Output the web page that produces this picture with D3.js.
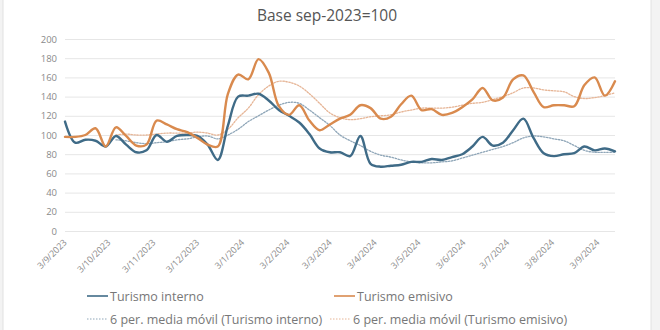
<!DOCTYPE html>
<html>
<head>
<meta charset="utf-8">
<script src="https://cdn.jsdelivr.net/npm/d3@7"></script>
<style>
  html, body { margin: 0; padding: 0; background: #f3f3f3; }
  svg { display: block; }
</style>
</head>
<body>
<svg id="chart" width="660" height="330"></svg>
<script>
// Weekly index values, base sep-2023 = 100
const startDate = new Date(2023, 8, 3);
const turismoInterno = [114, 92, 95, 94, 88, 99, 90, 82, 84, 100, 93, 99, 100, 99, 90, 74, 110, 140, 141, 143,
  136, 126, 120, 113, 101, 86, 82, 82, 78, 99, 70, 67, 68, 69, 72, 72, 75, 74, 77, 80,
  88, 98, 89, 92, 105, 117, 97, 81, 78, 80, 81, 88, 84, 86, 83];
const turismoEmisivo = [98, 98, 100, 107, 88, 108, 99, 89, 90, 115, 111, 106, 103, 97, 90, 88, 143, 163, 158, 179,
  165, 130, 121, 131, 115, 105, 111, 117, 121, 131, 128, 117, 119, 132, 141, 126, 127, 121, 123, 129,
  137, 149, 136, 139, 158, 162, 145, 129, 131, 131, 130, 152, 160, 141, 156];
// 6-period moving averages (first five weeks have no value)
const mediaInterno = [null, null, null, null, null, 95, 94, 92, 91, 92, 93, 95, 96, 98, 99, 96, 100, 106, 114, 120,
  126, 131, 134, 133, 126, 118, 110, 100, 94, 89, 83, 79, 77, 74, 72, 71, 71, 72, 73, 76,
  79, 82, 85, 88, 92, 97, 99, 98, 96, 94, 89, 84, 82, 82, 82];
const mediaEmisivo = [null, null, null, null, null, 100, 101, 100, 100, 101, 102, 102, 102, 103, 102, 100, 106, 118, 128, 142,
  151, 156, 155, 151, 143, 133, 123, 118, 116, 117, 119, 120, 121, 124, 126, 128, 128, 128, 129, 131,
  133, 134, 137, 140, 144, 149, 149, 147, 146, 145, 140, 138, 139, 141, 144];
const yTicks = [0, 20, 40, 60, 80, 100, 120, 140, 160, 180, 200];
const xTickDates = ["2023-09-03", "2023-10-03", "2023-11-03", "2023-12-03", "2024-01-03", "2024-02-03",
  "2024-03-03", "2024-04-03", "2024-05-03", "2024-06-03", "2024-07-03", "2024-08-03", "2024-09-03"];
const title = "Base sep-2023=100";
const legendLabels = ["Turismo interno", "Turismo emisivo",
  "6 per. media móvil (Turismo interno)", "6 per. media móvil (Turismo emisivo)"];

const colInterno = "#3f6b87";
const colEmisivo = "#d98a4e";
const colMediaInterno = "#8fa6b8";
const colMediaEmisivo = "#e6b596";
const fontFamily = "'Open Sans', 'Noto Sans', sans-serif";

const svg = d3.select("#chart");

// white card
svg.append("rect").attr("x", 3).attr("y", -2).attr("width", 648).attr("height", 340)
  .attr("fill", "#ffffff").attr("stroke", "#e2e2e2").attr("stroke-width", 1);

const dates = turismoInterno.map((_, i) => d3.timeWeek.offset(startDate, i));
const parse = d3.timeParse("%Y-%m-%d");

const x = d3.scaleTime()
  .domain([startDate, dates[dates.length - 1]])
  .range([65, 615]);
const y = d3.scaleLinear().domain([0, 200]).range([231, 39]);

// title
svg.append("text").attr("x", 327).attr("y", 21).attr("text-anchor", "middle")
  .attr("font-family", fontFamily).attr("font-size", 15.5).attr("fill", "#555")
  .text(title);

// horizontal grid + y labels
const yAxis = d3.axisLeft(y).tickValues(yTicks).tickSize(-(x.range()[1] - x.range()[0])).tickPadding(8);
const gy = svg.append("g").attr("transform", `translate(${x.range()[0]},0)`).call(yAxis);
gy.select(".domain").remove();
gy.selectAll(".tick line").attr("stroke", "#e6e6e6").attr("stroke-width", 1);
gy.selectAll(".tick text").attr("font-family", fontFamily).attr("font-size", 9.5).attr("fill", "#8a8a8a");

// x labels
const fmt = d3.timeFormat("%-d/%-m/%Y");
const xAxis = d3.axisBottom(x).tickValues(xTickDates.map(parse)).tickFormat(fmt).tickSize(0).tickPadding(0);
const gx = svg.append("g").attr("transform", `translate(0,${y(0)})`).call(xAxis);
gx.select(".domain").remove();
gx.selectAll(".tick text")
  .attr("font-family", fontFamily).attr("font-size", 9).attr("fill", "#8a8a8a")
  .attr("text-anchor", "end").attr("dy", 0)
  .attr("transform", "translate(2,12) rotate(-45)");

const line = d3.line()
  .defined(d => d[1] != null)
  .x(d => x(d[0])).y(d => y(d[1]))
  .curve(d3.curveCatmullRom.alpha(0.5));

const series = [
  { vals: mediaInterno, color: colMediaInterno, w: 1.3, dash: "1.5,1.5" },
  { vals: mediaEmisivo, color: colMediaEmisivo, w: 1.3, dash: "1.5,1.5" },
  { vals: turismoInterno, color: colInterno, w: 2.4, dash: null },
  { vals: turismoEmisivo, color: colEmisivo, w: 2.4, dash: null }
];
series.forEach(s => {
  svg.append("path")
    .datum(s.vals.map((v, i) => [dates[i], v]))
    .attr("fill", "none").attr("stroke", s.color).attr("stroke-width", s.w)
    .attr("stroke-linejoin", "round").attr("stroke-linecap", "round")
    .attr("stroke-dasharray", s.dash)
    .attr("d", line);
});

// legend
const legendItems = [
  { label: legendLabels[0], color: colInterno, w: 1.6, dash: null, x: 87, y: 296 },
  { label: legendLabels[1], color: colEmisivo, w: 1.6, dash: null, x: 334, y: 296 },
  { label: legendLabels[2], color: colMediaInterno, w: 1, dash: "1.5,1.5", x: 87, y: 319 },
  { label: legendLabels[3], color: colMediaEmisivo, w: 1, dash: "1.5,1.5", x: 330, y: 319 }
];
legendItems.forEach(it => {
  svg.append("line").attr("x1", it.x).attr("x2", it.x + 21).attr("y1", it.y).attr("y2", it.y)
    .attr("stroke", it.color).attr("stroke-width", it.w).attr("stroke-dasharray", it.dash);
  svg.append("text").attr("x", it.x + 23).attr("y", it.y + 4.5)
    .attr("font-family", fontFamily).attr("font-size", 12.5).attr("fill", "#777")
    .text(it.label);
});
</script>
</body>
</html>
